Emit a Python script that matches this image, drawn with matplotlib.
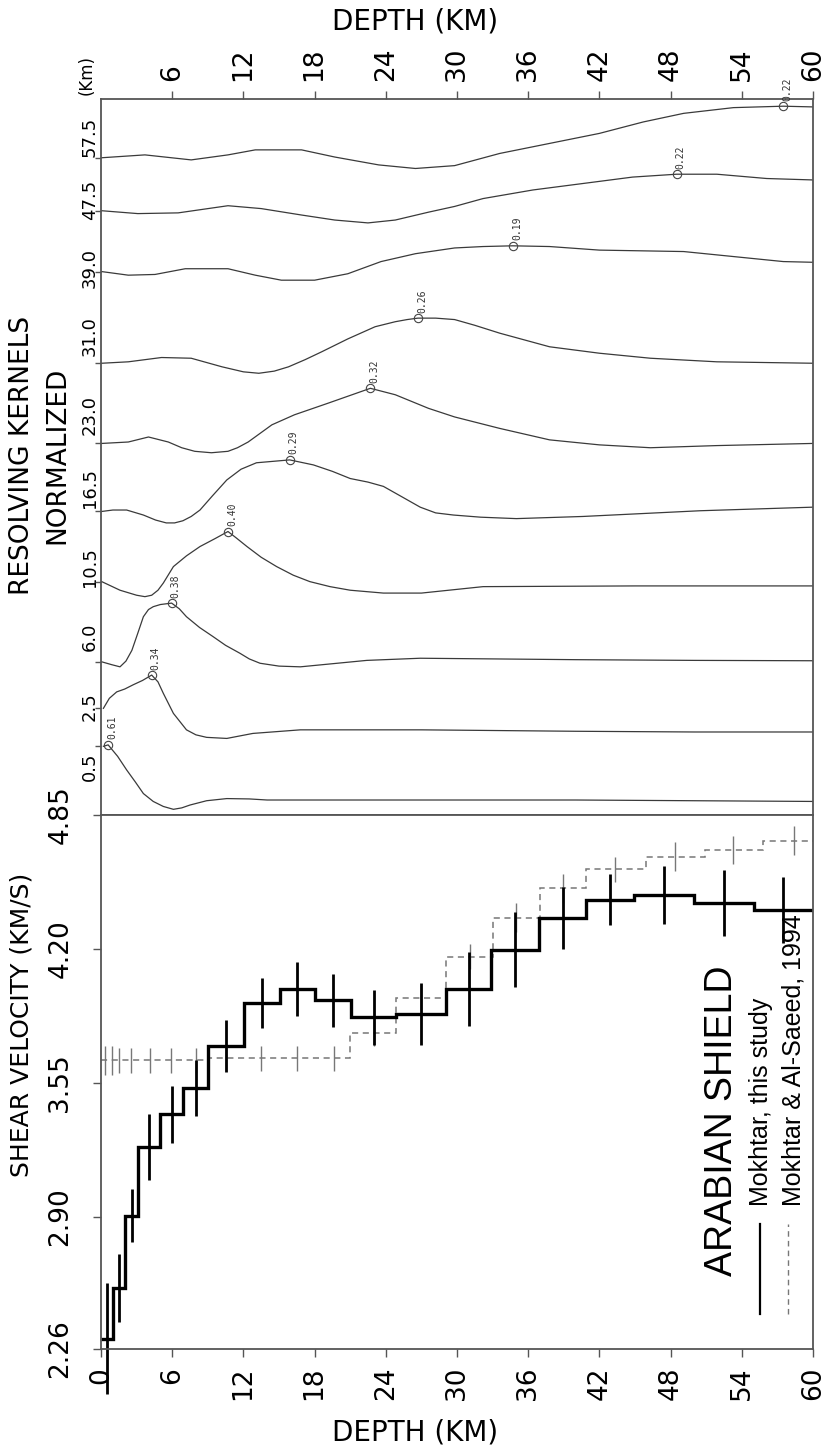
"""
Arabian Shield: shear velocity profile and resolving kernels
(page is printed rotated, so most text reads bottom-to-top)
"""
import numpy as np
import matplotlib
matplotlib.use("Agg")
import matplotlib.pyplot as plt

# ---------------- resolving kernels ----------------
kernel_names = ["0.5", "2.5", "6.0", "10.5", "16.5", "23.0", "31.0", "39.0", "47.5", "57.5"]
kernel_peaks = ["0.61", "0.34", "0.38", "0.40", "0.29", "0.32", "0.26", "0.19", "0.22", "0.22"]
kernel_peak_depth = [0.6, 4.27, 5.95, 10.7, 15.9, 22.7, 26.7, 34.7, 48.5, 57.5]
kernel_label_pos = [6.7, 15.1, 24.9, 34.6, 45.7, 55.9, 66.9, 76.4, 85.9, 94.7]

k0_5_z = [0.2, 0.6, 1.4, 2.16, 2.9, 3.57, 4.4, 5.25, 6.1, 6.8, 7.5, 8.9, 10.6, 12.5, 14,
          20, 30, 40, 50, 60]
k0_5_v = [9.6, 9.8, 8.2, 6.3, 4.6, 3.0, 1.9, 1.2, 0.8, 1.0, 1.4, 2.0, 2.3, 2.25, 2.1,
          2.1, 2.1, 2.1, 2.0, 1.9]
k2_5_z = [0.2, 0.7, 1.32, 2.0, 2.72, 3.5, 4.27, 4.8, 5.25, 6.1, 7.2, 8.0, 8.9, 10.6, 12.8,
          16.8, 27, 40, 50, 60]
k2_5_v = [14.9, 16.3, 17.2, 17.6, 18.2, 18.8, 19.55, 18.6, 17.0, 14.2, 11.9, 11.2, 10.85, 10.7, 11.4,
          11.9, 11.9, 11.7, 11.6, 11.6]
k6_0_z = [0.06, 0.9, 1.6, 2.1, 2.6, 3.1, 3.57, 4.0, 4.4, 5.0, 5.95, 6.6, 7.2, 8.3, 9.46,
          10.5, 11.7, 12.5, 13.4, 15.0, 16.8, 22.4, 26.9, 40, 50, 60]
k6_0_v = [21.4, 21.0, 20.7, 21.5, 23.0, 25.4, 27.7, 28.7, 29.1, 29.4, 29.6, 28.8, 27.7, 26.2, 24.9,
          23.7, 22.6, 21.8, 21.2, 20.8, 20.7, 21.6, 21.9, 21.7, 21.6, 21.55]
k10_5_z = [0.06, 1.6, 3.0, 3.7, 4.27, 4.8, 5.25, 6.1, 7.2, 8.34, 9.6, 10.7, 11.4, 12.3, 13.5,
           14.8, 16.2, 17.6, 19.3, 21, 23.8, 27, 32.2, 45, 60]
k10_5_v = [32.6, 31.4, 30.7, 30.5, 30.7, 31.4, 32.4, 34.7, 36.2, 37.5, 38.6, 39.6, 38.7, 37.5, 36.0,
           34.7, 33.5, 32.6, 31.9, 31.4, 31.0, 31.0, 31.9, 32.0, 32.0]
k16_5_z = [0.06, 1.0, 2.16, 3.57, 4.6, 5.5, 6.2, 6.9, 7.6, 8.34, 9.4, 10.6, 11.8, 13.1, 15.9,
           17.9, 19.5, 21.0, 22.5, 23.8, 25.3, 26.9, 28.2, 29.7, 32, 35.0, 40.6, 50.5, 60]
k16_5_v = [42.4, 42.6, 42.6, 41.9, 41.2, 40.8, 40.8, 41.1, 41.7, 42.6, 44.6, 46.8, 48.3, 49.2, 49.6,
           48.9, 48.0, 47.0, 46.5, 45.9, 44.5, 43.0, 42.2, 41.9, 41.6, 41.4, 41.7, 42.5, 43.0]
k23_0_z = [0.06, 2.3, 4.0, 5.67, 6.8, 7.9, 9.3, 10.7, 11.5, 12.4, 14.4, 16.3, 19.1, 22.7, 24.8,
           27.6, 29.8, 33.6, 37.8, 42.0, 46.3, 51.9, 60]
k23_0_v = [51.9, 52.1, 52.8, 52.1, 51.3, 50.8, 50.6, 50.8, 51.3, 52.1, 54.5, 55.9, 57.5, 59.6, 58.7,
           56.8, 55.6, 54.0, 52.4, 51.7, 51.3, 51.6, 51.9]
k31_0_z = [0.06, 2.3, 5.1, 7.6, 10.2, 12.0, 13.3, 14.6, 15.8, 17.2, 18.6, 20.8, 23.1, 24.8, 25.8,
           26.7, 28.2, 29.8, 31.5, 33.6, 37.8, 42.0, 46.3, 51.9, 60]
k31_0_v = [63.1, 63.3, 63.9, 63.8, 62.6, 61.9, 61.7, 62.0, 62.6, 63.6, 64.7, 66.5, 68.2, 68.9, 69.2,
           69.4, 69.4, 69.2, 68.4, 67.3, 65.4, 64.5, 63.8, 63.3, 63.1]
k39_0_z = [0.06, 2.3, 4.55, 7.1, 10.7, 13.0, 15.2, 18.0, 20.8, 23.6, 26.5, 29.8, 32.2, 34.7, 37.8,
           42.0, 49.1, 53.3, 57.5, 60]
k39_0_v = [75.9, 75.4, 75.5, 76.3, 76.3, 75.4, 74.7, 74.7, 75.6, 77.3, 78.4, 79.2, 79.4, 79.5, 79.4,
           78.9, 78.7, 78.0, 77.3, 77.2]
k47_5_z = [0.06, 3.1, 6.5, 10.7, 13.5, 16.9, 19.7, 22.5, 24.8, 27.6, 29.8, 32.2, 36.4, 40.6, 44.8,
           48.5, 51.9, 56.1, 60]
k47_5_v = [84.4, 84.0, 84.1, 85.1, 84.7, 83.8, 83.1, 82.7, 83.1, 84.2, 85.0, 86.1, 87.3, 88.2, 89.1,
           89.5, 89.5, 88.9, 88.7]
k57_5_z = [0.06, 3.7, 7.6, 10.7, 13.0, 16.9, 19.7, 23.4, 26.5, 29.8, 33.6, 37.8, 42.0, 45.7, 49.1,
           53.3, 57.5, 60]
k57_5_v = [91.8, 92.2, 91.5, 92.2, 92.9, 92.9, 91.9, 90.8, 90.3, 90.7, 92.4, 93.8, 95.2, 96.8, 98.0,
           98.8, 99.0, 98.9]

kernels_z = [k0_5_z, k2_5_z, k6_0_z, k10_5_z, k16_5_z, k23_0_z, k31_0_z, k39_0_z, k47_5_z, k57_5_z]
kernels_v = [k0_5_v, k2_5_v, k6_0_v, k10_5_v, k16_5_v, k23_0_v, k31_0_v, k39_0_v, k47_5_v, k57_5_v]

# ---------------- shear velocity models ----------------
# this study: layer edges (km), layer velocity (km/s), uncertainty
shield_edges = [0, 1.04, 2.02, 3.15, 4.97, 6.94, 8.99, 12.05, 15.08, 18.03, 21.03, 24.9,
                29.1, 32.9, 36.9, 40.9, 44.9, 50.0, 55.0, 60]
shield_vs = [2.31, 2.556, 2.907, 3.24, 3.397, 3.525, 3.729, 3.937, 4.006, 3.95, 3.868, 3.885,
             4.006, 4.197, 4.352, 4.439, 4.46, 4.425, 4.387]
shield_err = [0.27, 0.165, 0.13, 0.16, 0.14, 0.135, 0.125, 0.12, 0.13, 0.13, 0.135, 0.15,
              0.18, 0.18, 0.15, 0.125, 0.14, 0.16, 0.16]

# Mokhtar & Al-Saeed, 1994
saeed_edges = [0, 9, 21, 24.9, 29.1, 33.07, 37.0, 40.9, 45.9, 50.9, 55.8, 60]
saeed_vs = [3.66, 3.67, 3.79, 3.963, 4.162, 4.352, 4.494, 4.586, 4.647, 4.68, 4.724]
saeed_bar_z = [0.3, 0.9, 1.5, 2.5, 4.1, 5.9, 8.0, 10.5, 13.5, 16.5, 19.6, 23.0, 27.0, 31.1,
               35.0, 38.9, 43.3, 48.4, 53.3, 58.4]
saeed_err = [0.07, 0.07, 0.06, 0.06, 0.06, 0.06, 0.06, 0.06, 0.06, 0.06, 0.06, 0.06, 0.06,
             0.06, 0.07, 0.07, 0.06, 0.07, 0.07, 0.07]

depth_ticks = [0, 6, 12, 18, 24, 30, 36, 42, 48, 54, 60]
vel_ticks = [2.26, 2.90, 3.55, 4.20, 4.85]

SPINE = "#555555"
NUM_SIZE = 19


def style_spines(ax):
    for s in ax.spines.values():
        s.set_color(SPINE)
        s.set_linewidth(1.3)


def draw_kernels(ax):
    for z, v, pz, pk in zip(kernels_z, kernels_v, kernel_peak_depth, kernel_peaks):
        ax.plot(z, v, color="#3a3a3a", lw=0.9)
        pv = np.interp(pz, z, v)
        ax.plot(pz, pv, "o", ms=6, mfc="none", mec="#444444", mew=0.8, clip_on=False)
        ax.annotate(pk, (pz, pv), xytext=(3, 4), textcoords="offset points",
                    rotation=90, ha="center", va="bottom", fontsize=7,
                    family="DejaVu Sans Mono", color="#333333")

    ax.set_xlim(0, 60)
    ax.set_ylim(0, 100)
    style_spines(ax)

    # depth on top
    ax.xaxis.tick_top()
    ax.set_xticks(depth_ticks[1:])
    ax.tick_params(axis="x", direction="out", length=6, width=1, color=SPINE,
                   labelsize=NUM_SIZE, pad=7, labelrotation=90)

    # target depths on the left, small ticks at each kernel start
    ax.set_yticks(kernel_label_pos, kernel_names)
    ax.set_yticks([v[0] for v in kernels_v], minor=True)
    ax.tick_params(axis="y", which="major", length=0, labelsize=13, pad=1.5, labelrotation=90)
    ax.tick_params(axis="y", which="minor", direction="out", length=4, width=1, color=SPINE)
    for lbl in ax.get_yticklabels():
        lbl.set_va("center")


def draw_velocity(ax):
    ax.stairs(saeed_vs, saeed_edges, baseline=None, color="#777777", lw=1.1,
              linestyle=(0, (4, 3)))
    idx = np.searchsorted(saeed_edges, saeed_bar_z, side="right") - 1
    sv = np.array(saeed_vs)[idx]
    se = np.array(saeed_err)
    ax.vlines(saeed_bar_z, sv - se, sv + se, colors="#777777", lw=1.0)

    edges = np.array(shield_edges)
    mids = (edges[:-1] + edges[1:]) / 2
    vs = np.array(shield_vs)
    err = np.array(shield_err)
    ax.stairs(vs, edges, baseline=None, color="black", lw=2.4)
    ax.vlines(mids, vs - err, vs + err, colors="black", lw=2.0, clip_on=False)

    ax.set_xlim(0, 60)
    ax.set_ylim(2.26, 4.85)
    style_spines(ax)

    ax.set_xticks(depth_ticks)
    ax.set_yticks(vel_ticks, [f"{v:.2f}" for v in vel_ticks])
    ax.tick_params(axis="both", direction="out", length=6, width=1, color=SPINE,
                   labelsize=NUM_SIZE, labelrotation=90)
    ax.tick_params(axis="x", pad=7)
    ax.tick_params(axis="y", pad=14)
    for lbl in ax.get_yticklabels():
        lbl.set_va("center")

    # rotated legend block
    ax.text(0.872, 0.137, "ARABIAN SHIELD", transform=ax.transAxes, rotation=90,
            ha="center", va="bottom", fontsize=27, family="Liberation Sans")
    ax.plot([0.9256, 0.9256], [0.066, 0.234], transform=ax.transAxes, color="black", lw=1.6)
    ax.text(0.927, 0.268, "Mokhtar, this study", transform=ax.transAxes, rotation=90,
            ha="center", va="bottom", fontsize=18, family="Liberation Sans")
    ax.plot([0.965, 0.965], [0.066, 0.234], transform=ax.transAxes, color="#777777", lw=1.0,
            linestyle=(0, (4, 3)))
    ax.text(0.972, 0.268, "Mokhtar & Al-Saeed, 1994", transform=ax.transAxes, rotation=90,
            ha="center", va="bottom", fontsize=18, family="Liberation Sans")


def main():
    fig = plt.figure(figsize=(8.24, 14.5), dpi=100)
    ax_k = fig.add_axes([0.1226, 0.4379, 0.864, 0.4938])
    ax_v = fig.add_axes([0.1226, 0.0697, 0.864, 0.3683])

    draw_kernels(ax_k)
    draw_velocity(ax_v)

    fig.text(0.0255, 0.2931, "SHEAR VELOCITY (KM/S)", rotation=90, ha="center", va="center",
             fontsize=18)
    fig.text(0.0267, 0.6862, "RESOLVING KERNELS", rotation=90, ha="center", va="center",
             fontsize=19)
    fig.text(0.0698, 0.6862, "NORMALIZED", rotation=90, ha="center", va="center", fontsize=19)
    fig.text(0.1056, 0.9483, "(Km)", rotation=90, ha="center", va="center", fontsize=12)
    fig.text(0.5036, 0.9855, "DEPTH (KM)", ha="center", va="center", fontsize=20)
    fig.text(0.5036, 0.0124, "DEPTH (KM)", ha="center", va="center", fontsize=20)

    fig.savefig("out.png", dpi=100)
    plt.close(fig)


if __name__ == "__main__":
    main()
